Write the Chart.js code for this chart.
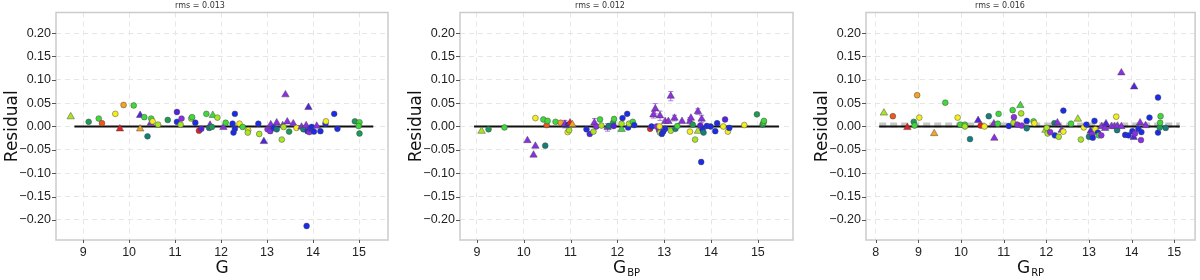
<!DOCTYPE html>
<html>
<head>
<meta charset="utf-8">
<script src="https://cdn.jsdelivr.net/npm/chart.js@4.4.0/dist/chart.umd.min.js"></script>
<style>
  body { margin: 0; background: #fff; width: 1200px; height: 280px; overflow: hidden; display: flex; }
  canvas { display: block; }
</style>
</head>
<body>
<canvas id="cG" width="400" height="280"></canvas>
<canvas id="cBP" width="400" height="280"></canvas>
<canvas id="cRP" width="400" height="280"></canvas>
<script>
// each point: [magnitude, residual, colour class, shape, error bar]
const pointsG = [
  [8.73, 0.021, 'yg', 't'], [9.12, 0.010, 'tg', 'c'], [9.34, 0.017, 'g', 'c'], [9.41, 0.007, 'or', 'c'],
  [9.70, 0.027, 'y', 'c'], [9.80, -0.005, 'r', 't'], [9.88, 0.046, 'o', 'c'], [10.10, 0.045, 'g', 'c'],
  [10.24, 0.024, 'bv', 't'], [10.24, -0.005, 'o', 't'], [10.33, 0.020, 'g', 'c'], [10.40, -0.021, 't', 'c'],
  [10.47, 0.007, 'v', 't'], [10.48, 0.017, 'g', 'c'], [10.51, 0.011, 'y', 'c'], [10.63, 0.004, 'yg', 'c'],
  [10.84, 0.014, 'tg', 'c'], [11.04, 0.031, 'bv', 'c'], [11.04, 0.010, 'b', 'c'], [11.14, 0.017, 'v', 'c'],
  [11.12, 0.004, 'yg', 'c'], [11.35, 0.017, 'yg', 'c'], [11.37, 0.020, 'g', 'c'], [11.44, 0.008, 'b', 'c'],
  [11.52, -0.009, 'r', 'c'], [11.57, -0.005, 'bv', 'c'], [11.68, 0.027, 'g', 'c'], [11.82, 0.024, 'g', 't'],
  [11.92, 0.019, 'yg', 'c'], [11.76, 0.003, 'v', 't'], [11.74, -0.003, 't', 'c'], [11.80, -0.001, 'tg', 'c'],
  [12.05, -0.002, 'v', 't'], [12.10, 0.008, 'g', 'c'], [12.25, 0.006, 'b', 'c'], [12.27, -0.013, 'b', 'c'],
  [12.30, -0.005, 'b', 'c'], [12.30, 0.027, 'b', 'c'], [12.40, 0.006, 'y', 'c'], [12.47, -0.001, 'g', 'c'],
  [12.59, -0.008, 'y', 'c'], [12.58, -0.013, 'yg', 'c'], [12.81, 0.006, 'b', 'c'], [12.83, -0.016, 'yg', 'c'],
  [12.93, -0.032, 'bv', 't'], [13.01, -0.006, 'v', 'c'], [13.07, -0.010, 'v', 'c'], [13.08, 0.004, 'v', 't'],
  [13.14, -0.003, 'b', 'c'], [13.21, 0.008, 'v', 't'], [13.21, -0.006, 't', 'c'], [13.32, -0.028, 'yg', 'c'],
  [13.34, 0.002, 'v', 't'], [13.36, -0.001, 'yg', 'c'], [13.40, 0.068, 'v', 't'], [13.44, 0.010, 'v', 't'],
  [13.48, -0.011, 'tg', 'c'], [13.57, 0.006, 'v', 't'], [13.64, -0.003, 'y', 'c'], [13.75, -0.001, 'v', 't'],
  [13.79, -0.006, 't', 'c'], [13.85, 0.002, 'v', 't'], [13.86, -0.213, 'b', 'c'], [13.88, -0.010, 'b', 'c'],
  [13.90, 0.041, 'bv', 't'], [13.92, -0.012, 'v', 'c'], [13.93, -0.005, 'bv', 'c'], [13.97, -0.001, 'b', 'c'],
  [14.02, -0.011, 'b', 'c'], [14.08, 0.001, 'v', 't'], [14.16, -0.010, 'b', 'c'], [14.27, 0.006, 'b', 'c'],
  [14.28, 0.011, 'y', 'c'], [14.46, 0.027, 'b', 'c'], [14.53, -0.005, 'b', 'c'], [14.91, 0.011, 'tg', 'c'],
  [15.01, 0.009, 'g', 'c'], [14.99, 0.001, 'g', 'c'], [15.01, -0.015, 'tg', 'c']
];

const pointsBP = [
  [9.10, -0.010, 'yg', 't'], [9.25, -0.006, 'tg', 'c'], [9.59, -0.002, 'g', 'c'], [10.08, -0.030, 'v', 't'],
  [10.21, -0.061, 'v', 't'], [10.25, -0.042, 'v', 't'], [10.25, 0.018, 'y', 'c'], [10.42, 0.015, 'g', 'c'],
  [10.46, -0.041, 't', 'c'], [10.49, 0.003, 'or', 'c'], [10.51, 0.012, 'g', 'c'], [10.68, 0.010, 'g', 'c'],
  [10.79, 0.008, 'o', 'c'], [10.88, 0.005, 'v', 't', 0.008], [10.94, -0.012, 'y', 'c'], [10.97, -0.008, 'yg', 'c'],
  [10.95, 0.004, 'b', 'c'], [10.99, 0.008, 'r', 't'], [11.04, 0.004, 'o', 't'], [11.34, -0.006, 'b', 'c'],
  [11.41, -0.016, 'bv', 'c'], [11.49, -0.011, 'yg', 'c'], [11.51, 0.008, 'v', 't', 0.009], [11.55, 0.000, 'v', 'c'],
  [11.63, 0.015, 'g', 'c'], [11.66, 0.002, 'yg', 'c'], [11.79, -0.002, 'v', 't', 0.008], [11.82, 0.001, 't', 'c'],
  [11.91, 0.008, 'tg', 'c'], [11.92, 0.001, 'bv', 'c'], [11.93, 0.016, 'g', 'c'], [12.09, -0.006, 'g', 't'],
  [12.09, 0.006, 'yg', 'c'], [12.11, 0.018, 'b', 'c'], [12.21, 0.027, 'b', 'c'], [12.23, -0.002, 'b', 'c'],
  [12.25, 0.006, 'yg', 'c'], [12.33, 0.010, 'g', 'c'], [12.36, 0.003, 'b', 'c'], [12.70, -0.005, 'r', 'c'],
  [12.73, 0.000, 'b', 'c'], [12.77, 0.025, 'v', 't', 0.007], [12.81, 0.038, 'v', 't', 0.011], [12.84, 0.000, 'v', 'c'],
  [12.89, -0.008, 'v', 'c'], [12.90, 0.000, 'y', 'c'], [12.91, 0.023, 'v', 't', 0.010], [12.91, -0.013, 'yg', 'c'],
  [12.95, -0.016, 'b', 'c'], [12.98, -0.011, 'b', 'c'], [13.02, 0.011, 'v', 't'], [13.02, -0.005, 'b', 'c'],
  [13.09, 0.011, 'v', 't'], [13.14, 0.065, 'v', 't', 0.010], [13.14, -0.009, 'yg', 'c'], [13.22, 0.018, 'v', 't', 0.006],
  [13.24, -0.005, 't', 'c'], [13.28, 0.001, 'g', 'c'], [13.38, 0.011, 'v', 't'], [13.55, 0.011, 'v', 't', 0.008],
  [13.57, 0.018, 'v', 't'], [13.55, -0.011, 'y', 'c'], [13.61, 0.004, 'tg', 'c'], [13.66, -0.028, 'yg', 'c'],
  [13.72, 0.032, 'v', 't', 0.006], [13.72, -0.010, 'yg', 't'], [13.77, 0.002, 'bv', 'c'], [13.80, 0.016, 'v', 't', 0.008],
  [13.79, -0.076, 'b', 'c'], [13.82, -0.006, 'b', 'c'], [13.84, -0.013, 't', 'c'], [13.91, 0.001, 'b', 'c'],
  [13.99, 0.000, 'b', 'c'], [14.09, -0.010, 'b', 'c'], [14.13, 0.007, 'b', 'c'], [14.26, 0.000, 'y', 'c'],
  [14.30, 0.015, 'bv', 'c'], [14.36, -0.011, 'y', 'c'], [14.39, -0.003, 'b', 'c'], [14.71, 0.003, 'y', 'c'],
  [14.98, 0.026, 'tg', 'c'], [15.10, 0.004, 'tg', 'c'], [15.12, 0.008, 'g', 'c'], [15.13, 0.012, 'g', 'c']
];

const pointsRP = [
  [8.19, 0.029, 'yg', 't'], [8.40, 0.022, 'or', 'c'], [8.74, -0.002, 'r', 't'], [8.89, 0.010, 'tg', 'c'],
  [8.91, 0.002, 'g', 'c'], [8.97, 0.067, 'o', 'c'], [9.02, 0.019, 'y', 'c'], [9.37, -0.015, 'o', 't'],
  [9.63, 0.051, 'g', 'c'], [9.92, 0.019, 'y', 'c'], [9.98, 0.004, 'g', 'c'], [10.09, 0.004, 'g', 'c'],
  [10.09, 0.000, 'yg', 'c'], [10.21, -0.027, 't', 'c'], [10.40, 0.013, 'bv', 't'], [10.46, 0.002, 'r', 'c'],
  [10.55, 0.000, 'y', 'c'], [10.65, 0.022, 't', 'c'], [10.77, 0.006, 'v', 't'], [10.78, -0.025, 'v', 't'],
  [10.86, 0.006, 'g', 'c'], [10.88, 0.027, 'g', 'c'], [11.12, 0.001, 'b', 'c'], [11.21, 0.035, 'g', 'c'],
  [11.23, 0.008, 'yg', 'c'], [11.24, 0.020, 'v', 'c'], [11.32, 0.004, 'v', 'c'], [11.39, 0.045, 'g', 't'],
  [11.41, 0.028, 'yg', 'c'], [11.42, 0.002, 'v', 'c'], [11.54, 0.012, 'b', 'c'], [11.54, -0.004, 't', 'c'],
  [11.70, 0.011, 'g', 'c'], [11.72, 0.007, 'y', 'c'], [11.98, -0.008, 'yg', 't'], [12.01, -0.003, 'yg', 'c'],
  [12.03, -0.015, 'yg', 'c'], [12.09, -0.012, 'v', 'c'], [12.19, 0.007, 't', 'c'], [12.20, -0.019, 'b', 'c'],
  [12.26, 0.008, 'v', 't'], [12.29, -0.022, 'yg', 'c'], [12.36, -0.008, 'v', 't'], [12.40, -0.011, 'y', 'c'],
  [12.40, 0.034, 'b', 'c'], [12.58, 0.006, 'g', 'c'], [12.74, 0.016, 'yg', 't'], [12.81, -0.028, 'yg', 'c'],
  [12.88, -0.002, 'y', 'c'], [12.94, 0.004, 'b', 'c'], [13.00, -0.022, 't', 'c'], [13.04, -0.010, 'bv', 't'],
  [13.07, -0.017, 'v', 'c'], [13.09, -0.024, 'b', 'c'], [13.13, 0.012, 'b', 'c'], [13.15, -0.006, 'y', 'c'],
  [13.21, -0.013, 'b', 'c'], [13.23, -0.019, 'g', 'c'], [13.29, -0.019, 'v', 'c'], [13.30, 0.000, 'v', 't'],
  [13.38, -0.004, 'v', 't'], [13.40, 0.006, 'bv', 't'], [13.53, 0.000, 'v', 't'], [13.60, 0.000, 'v', 't'],
  [13.64, 0.021, 'y', 'c'], [13.66, -0.008, 't', 'c'], [13.67, 0.001, 'v', 't'], [13.76, 0.000, 'v', 't'],
  [13.76, 0.115, 'v', 't'], [13.85, -0.018, 'b', 'c'], [13.93, -0.019, 'b', 'c'], [14.02, -0.010, 'b', 'c'],
  [14.06, 0.085, 'bv', 't'], [14.05, -0.023, 'bv', 't'], [14.08, -0.015, 'v', 'c'], [14.16, -0.005, 'b', 'c'],
  [14.20, 0.008, 'v', 't'], [14.22, -0.029, 'v', 'c'], [14.23, -0.012, 'b', 'c'], [14.33, 0.002, 'v', 't'],
  [14.42, 0.019, 'b', 'c'], [14.62, 0.062, 'b', 'c'], [14.62, -0.013, 'b', 'c'], [14.66, -0.002, 'tg', 'c'],
  [14.67, 0.008, 'g', 'c'], [14.68, 0.022, 'g', 'c'], [14.80, -0.003, 't', 'c']
];

// zero reference lines (x extent), the grey dashed mean in G_RP
const zeroG = [8.81, 15.31];
const zeroBP = [8.94, 15.45];
const zeroRP = [8.08, 15.13];
const meanRP = [8.08, 15.13];
const meanRPLevel = 0.003;

const ticksX = [9, 10, 11, 12, 13, 14, 15];
const ticksXRP = [8, 9, 10, 11, 12, 13, 14, 15];
const ticksY = [-0.20, -0.15, -0.10, -0.05, 0.00, 0.05, 0.10, 0.15, 0.20];
const rmsLabels = ['rms = 0.013', 'rms = 0.012', 'rms = 0.016'];

const palette = {
  r: '#ec1c1c', or: '#f0571b', o: '#f4a324', y: '#f3ef1d', yg: '#a9e521', g: '#40d83a',
  tg: '#1d9c55', t: '#147f78', b: '#1c2be8', bv: '#5522e2', v: '#8b2ee4'
};

const TICK_FONT = { family: 'Liberation Sans', size: 12.5 };

const deco = {
  id: 'deco',
  beforeDatasetsDraw(chart, args, o) {
    const { ctx, chartArea: a, scales } = chart;
    ctx.save();
    // frame
    ctx.strokeStyle = '#cbcbcb';
    ctx.lineWidth = 1.5;
    ctx.strokeRect(a.left, a.top, a.right - a.left, a.bottom - a.top);
    // tick marks
    ctx.strokeStyle = '#555';
    ctx.lineWidth = 1;
    ctx.beginPath();
    ticksY.forEach(v => {
      const py = Math.round(scales.y.getPixelForValue(v)) + 0.5;
      ctx.moveTo(a.left - 4, py); ctx.lineTo(a.left, py);
    });
    o.xTicks.forEach(v => {
      const px = Math.round(scales.x.getPixelForValue(v)) + 0.5;
      ctx.moveTo(px, a.bottom); ctx.lineTo(px, a.bottom + 3);
    });
    ctx.stroke();
    // error bars
    ctx.strokeStyle = 'rgba(160,100,225,0.85)';
    ctx.lineWidth = 1;
    o.points.forEach(p => {
      if (!p[4]) return;
      const px = scales.x.getPixelForValue(p[0]);
      const y1 = scales.y.getPixelForValue(p[1] - p[4]);
      const y2 = scales.y.getPixelForValue(p[1] + p[4]);
      ctx.beginPath();
      ctx.moveTo(px, y1); ctx.lineTo(px, y2);
      ctx.moveTo(px - 2.5, y1); ctx.lineTo(px + 2.5, y1);
      ctx.moveTo(px - 2.5, y2); ctx.lineTo(px + 2.5, y2);
      ctx.stroke();
    });
    ctx.restore();
  },
  afterDraw(chart, args, o) {
    const { ctx, chartArea: a } = chart;
    ctx.save();
    ctx.fillStyle = '#333';
    ctx.font = '8px "DejaVu Sans"';
    ctx.textAlign = 'center';
    ctx.textBaseline = 'alphabetic';
    ctx.fillText(o.rms, chart.width / 2, 8);

    // y title
    ctx.fillStyle = '#111';
    ctx.font = '17px "DejaVu Sans"';
    ctx.translate(a.left - 43, (a.top + a.bottom) / 2);
    ctx.rotate(-Math.PI / 2);
    ctx.textBaseline = 'middle';
    ctx.fillText('Residual', 0, 0);
    ctx.setTransform(1, 0, 0, 1, 0, 0);

    // x title with subscript
    ctx.textAlign = 'left';
    ctx.textBaseline = 'alphabetic';
    ctx.font = '17px "DejaVu Sans"';
    const wG = ctx.measureText('G').width;
    ctx.font = '10px "DejaVu Sans"';
    const wS = o.sub ? ctx.measureText(o.sub).width + 1 : 0;
    const x0 = (a.left + a.right) / 2 - (wG + wS) / 2;
    ctx.font = '17px "DejaVu Sans"';
    ctx.fillText('G', x0, 273);
    if (o.sub) {
      ctx.font = '10px "DejaVu Sans"';
      ctx.fillText(o.sub, x0 + wG + 1, 276);
    }
    ctx.restore();
  }
};

function makePanel(id, points, xRange, xTicks, zero, rms, sub, box, mean) {
  const shapeOf = c => (points[c.dataIndex] && points[c.dataIndex][3] === 't') ? 'triangle' : 'circle';
  const datasets = [
    {
      data: points.map(p => ({ x: p[0], y: p[1] })),
      pointStyle: shapeOf,
      pointRadius: c => shapeOf(c) === 'triangle' ? 4.3 : 2.9,
      backgroundColor: c => points[c.dataIndex] ? palette[points[c.dataIndex][2]] : '#000',
      borderColor: 'rgba(70,70,70,0.8)',
      pointBorderWidth: 0.6,
      order: 1
    },
    {
      type: 'line',
      data: zero.map(x => ({ x, y: 0 })),
      borderColor: '#111', borderWidth: 2.2, pointRadius: 0, order: 2
    }
  ];
  if (mean) {
    datasets.push({
      type: 'line',
      data: mean.map(x => ({ x, y: meanRPLevel })),
      borderColor: '#c6c6c6', borderWidth: 5, borderDash: [7, 4], pointRadius: 0, order: 3
    });
  }
  new Chart(document.getElementById(id), {
    type: 'scatter',
    data: { datasets },
    plugins: [deco],
    options: {
      responsive: false,
      animation: false,
      events: [],
      layout: { padding: { left: 0, right: 400 - box[1], top: 12, bottom: 0 } },
      plugins: {
        legend: { display: false },
        tooltip: { enabled: false },
        deco: { rms, sub, xTicks, points }
      },
      scales: {
        x: {
          type: 'linear', min: xRange[0], max: xRange[1],
          afterBuildTicks: s => { s.ticks = xTicks.map(v => ({ value: v })); },
          afterFit: s => { s.height = 40; },
          grid: { color: '#e6e6e6', drawTicks: false, borderDash: [5, 4] },
          border: { display: false, dash: [5, 4] },
          ticks: { font: TICK_FONT, color: '#222', padding: 5, maxRotation: 0, autoSkip: false }
        },
        y: {
          type: 'linear', min: -0.243, max: 0.244,
          afterBuildTicks: s => { s.ticks = ticksY.map(v => ({ value: v })); },
          afterFit: s => { s.width = box[0]; },
          grid: { color: '#e6e6e6', drawTicks: false, borderDash: [5, 4] },
          border: { display: false, dash: [5, 4] },
          ticks: {
            font: TICK_FONT, color: '#222', padding: 5, autoSkip: false,
            callback: v => (v < -1e-9 ? '\u2212' : '') + Math.abs(v).toFixed(2)
          }
        }
      }
    }
  });
}

makePanel('cG', pointsG, [8.41, 15.63], ticksX, zeroG, rmsLabels[0], '', [56, 388]);
makePanel('cBP', pointsBP, [8.64, 15.75], ticksX, zeroBP, rmsLabels[1], 'BP', [60, 393]);
makePanel('cRP', pointsRP, [7.77, 15.49], ticksXRP, zeroRP, rmsLabels[2], 'RP', [66, 398], meanRP);
</script>
</body>
</html>
